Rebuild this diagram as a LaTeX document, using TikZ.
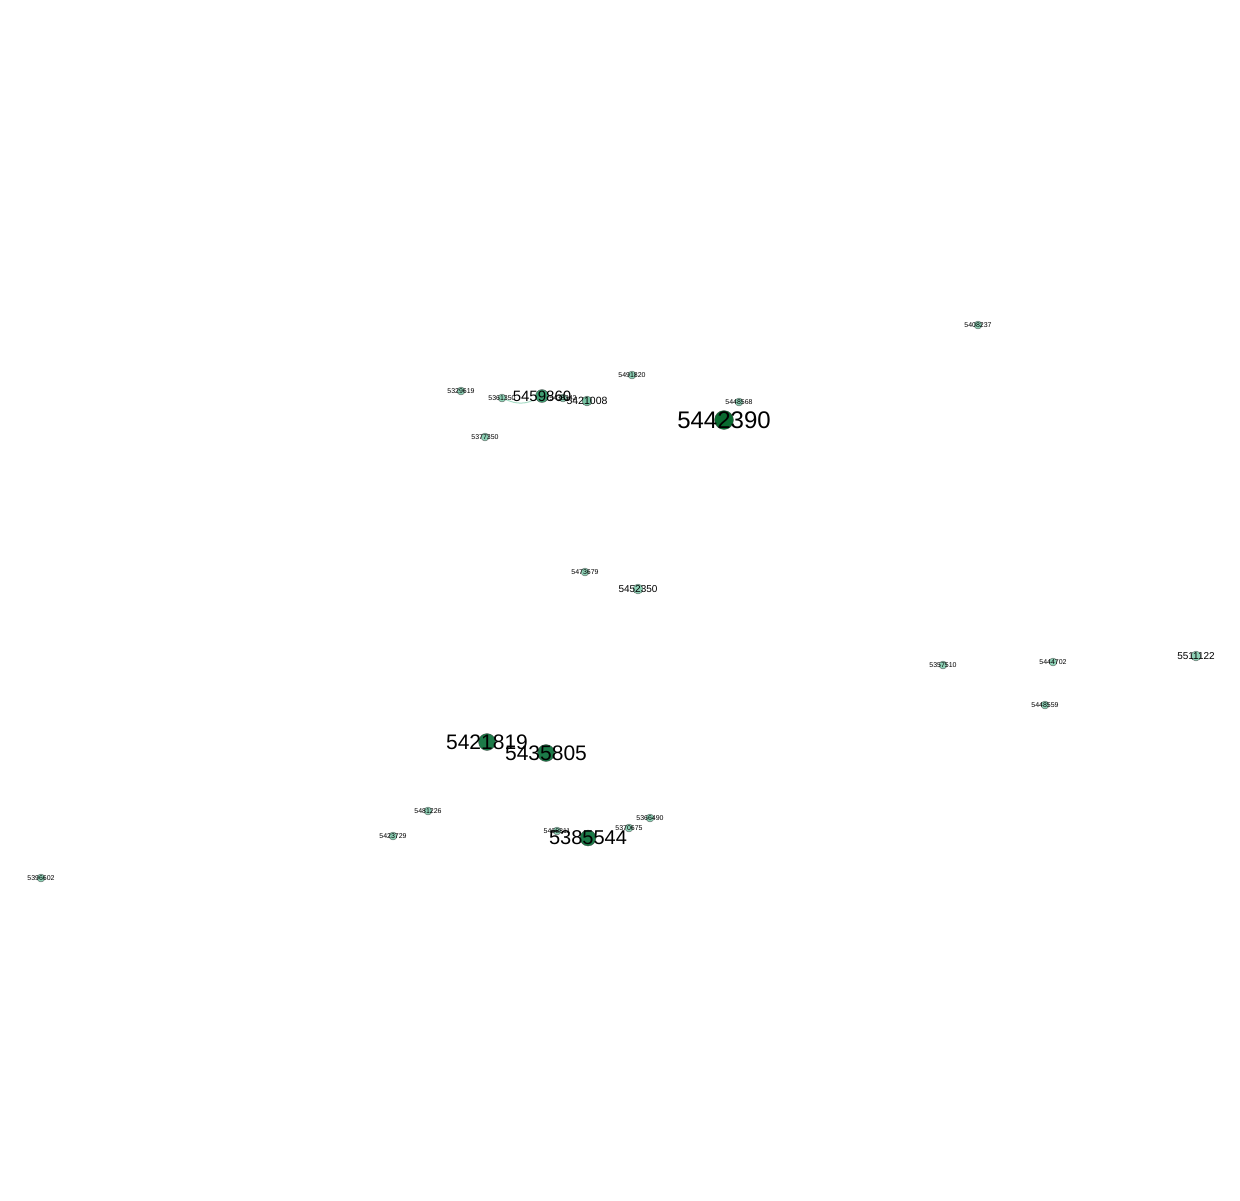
\documentclass[tikz,border=0pt]{standalone}
\usepackage{fontspec}
\setmainfont{Liberation Sans}
\definecolor{cL}{HTML}{8ED1B6}
\definecolor{cM}{HTML}{78C4A4}
\definecolor{cG}{HTML}{3E9E72}
\definecolor{cD}{HTML}{1C7A48}
\definecolor{cX}{HTML}{0A6A30}
\definecolor{edgeC}{HTML}{A8DCC6}
\tikzset{
  vtx/.style={circle,draw=black!70,line width=0.3pt,inner sep=0pt,minimum size=#1},
  lab/.style={inner sep=0pt,text=black,font=\fontsize{#1}{#1}\selectfont},
}
\begin{document}
\begin{tikzpicture}[x=1pt,y=-1pt]
\useasboundingbox (0,0) rectangle (1240,1200);
% edge
% nodes
\node[vtx=8,fill=cL] (n5408237) at (978,325) {};
\node[vtx=8,fill=cL] (n5491820) at (632,375) {};
\node[vtx=8,fill=cL] (n5329619) at (461,391) {};
\node[vtx=8,fill=cL] (n5361350) at (502,398) {};
\node[vtx=13,fill=cG] (n5459860) at (542,396) {};
\node[vtx=8,fill=cL] (n5438342) at (563,398) {};
\node[vtx=10,fill=cM] (n5421008) at (587,401) {};
\node[vtx=8,fill=cL] (n5448568) at (739,402) {};
\node[vtx=19,fill=cX] (n5442390) at (724,420) {};
\node[vtx=8,fill=cL] (n5377350) at (485,437) {};
\node[vtx=8,fill=cL] (n5473679) at (585,572) {};
\node[vtx=10,fill=cL] (n5452350) at (638,589) {};
\node[vtx=8,fill=cL] (n5357510) at (943,665) {};
\node[vtx=8,fill=cL] (n5444702) at (1053,662) {};
\node[vtx=10,fill=cL] (n5511122) at (1196,656) {};
\node[vtx=8,fill=cL] (n5448559) at (1045,705) {};
\node[vtx=17,fill=cD] (n5421819) at (487,742) {};
\node[vtx=17,fill=cD] (n5435805) at (546,753) {};
\node[vtx=8,fill=cL] (n5481226) at (428,811) {};
\node[vtx=8,fill=cL] (n5423729) at (393,836) {};
\node[vtx=8,fill=cL] (n5468811) at (557,831) {};
\node[vtx=16,fill=cD] (n5385544) at (588,838) {};
\node[vtx=8,fill=cL] (n5370675) at (629,828) {};
\node[vtx=8,fill=cL] (n5366490) at (650,818) {};
\node[vtx=8,fill=cL] (n5396602) at (41,878) {};
\draw[edgeC,line width=1pt] (n5361350) to[bend right=25] (n5459860);
% labels
\node[lab=7] (l5408237) at (n5408237) {5408237};
\node[lab=7] (l5491820) at (n5491820) {5491820};
\node[lab=7] (l5329619) at (n5329619) {5329619};
\node[lab=7] (l5361350) at (n5361350) {5361350};
\node[lab=7] (l5438342) at (n5438342) {5438342};
\node[lab=15] (l5459860) at (n5459860) {5459860};
\node[lab=10.5] (l5421008) at (n5421008) {5421008};
\node[lab=7] (l5448568) at (n5448568) {5448568};
\node[lab=24] (l5442390) at (n5442390) {5442390};
\node[lab=7] (l5377350) at (n5377350) {5377350};
\node[lab=7] (l5473679) at (n5473679) {5473679};
\node[lab=10] (l5452350) at (n5452350) {5452350};
\node[lab=7] (l5357510) at (n5357510) {5357510};
\node[lab=7] (l5444702) at (n5444702) {5444702};
\node[lab=10] (l5511122) at (n5511122) {5511122};
\node[lab=7] (l5448559) at (n5448559) {5448559};
\node[lab=21] (l5421819) at (n5421819) {5421819};
\node[lab=21] (l5435805) at (n5435805) {5435805};
\node[lab=7] (l5481226) at (n5481226) {5481226};
\node[lab=7] (l5423729) at (n5423729) {5423729};
\node[lab=7] (l5468811) at (n5468811) {5468811};
\node[lab=20] (l5385544) at (n5385544) {5385544};
\node[lab=7] (l5370675) at (n5370675) {5370675};
\node[lab=7] (l5366490) at (n5366490) {5366490};
\node[lab=7] (l5396602) at (n5396602) {5396602};
\end{tikzpicture}
\end{document}
